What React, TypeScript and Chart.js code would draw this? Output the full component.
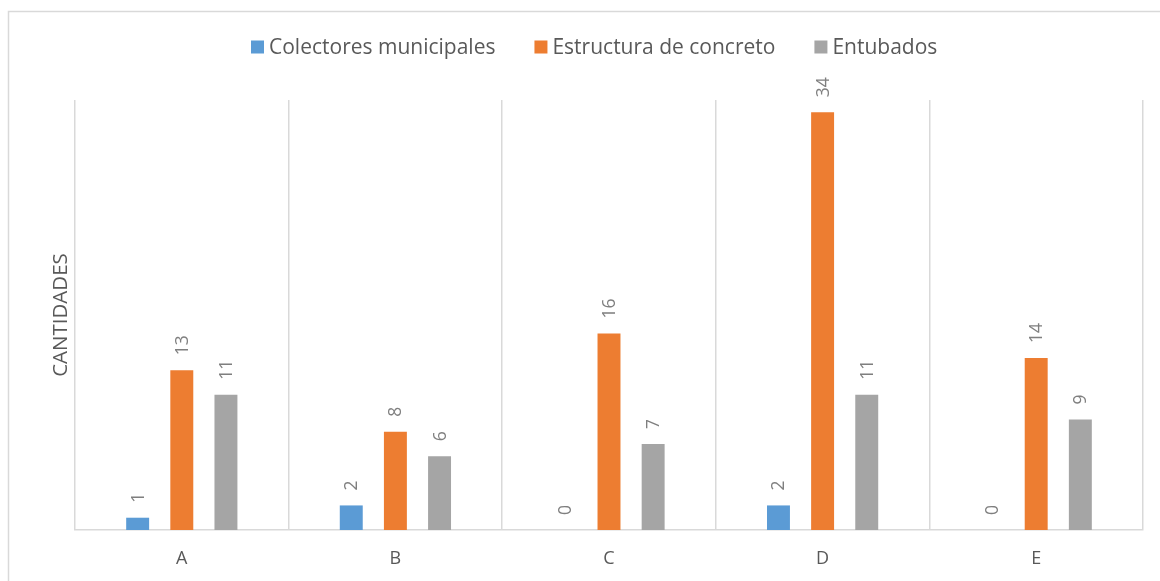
import React, { useEffect, useRef } from "react";
import { Chart, registerables } from "chart.js";

Chart.register(...registerables);

const categories = ["A", "B", "C", "D", "E"];
const seriesNames = ["Colectores municipales", "Estructura de concreto", "Entubados"];
const colectores = [1, 2, 0, 2, 0];
const estructura = [13, 8, 16, 34, 14];
const entubados = [11, 6, 7, 11, 9];
const seriesColors = ["#5B9BD5", "#ED7D31", "#A5A5A5"];
const yTitle = "CANTIDADES";

const FONT = "'Open Sans', 'DejaVu Sans', sans-serif";
const W = 1160;
const H = 581;

const decorPlugin = {
  id: "decor",
  beforeDraw(chart: any) {
    const ctx = chart.ctx;
    ctx.save();
    ctx.fillStyle = "#ffffff";
    ctx.fillRect(0, 0, W, H);
    // outer frame (left and top visible)
    ctx.strokeStyle = "#d9d9d9";
    ctx.lineWidth = 1.5;
    ctx.beginPath();
    ctx.moveTo(8.5, H + 2);
    ctx.lineTo(8.5, 11.5);
    ctx.lineTo(W + 2, 11.5);
    ctx.stroke();
    ctx.restore();
  },
  afterDraw(chart: any) {
    const ctx = chart.ctx;
    const area = chart.chartArea;
    ctx.save();
    // legend
    ctx.font = `21px ${FONT}`;
    ctx.textBaseline = "middle";
    ctx.textAlign = "left";
    const box = 13;
    const gapBox = 5;
    const gapItem = 39;
    const widths = seriesNames.map((n) => ctx.measureText(n).width);
    let x = 251;
    const ly = 47;
    seriesNames.forEach((n, i) => {
      ctx.fillStyle = seriesColors[i];
      ctx.fillRect(x, ly - box / 2, box, box);
      x += box + gapBox;
      ctx.fillStyle = "#595959";
      ctx.fillText(n, x, ly + 1);
      x += widths[i] + gapItem;
    });
    // y axis title
    ctx.save();
    ctx.translate(61, (area.top + area.bottom) / 2);
    ctx.rotate(-Math.PI / 2);
    ctx.textAlign = "center";
    ctx.textBaseline = "middle";
    ctx.font = `20.5px ${FONT}`;
    ctx.fillStyle = "#595959";
    ctx.fillText(yTitle, 0, 0);
    ctx.restore();
    // data labels
    ctx.font = `17.5px ${FONT}`;
    ctx.fillStyle = "#7f7f7f";
    chart.data.datasets.forEach((ds: any, di: number) => {
      const meta = chart.getDatasetMeta(di);
      meta.data.forEach((bar: any, i: number) => {
        ctx.save();
        ctx.translate(bar.x, bar.y - 15);
        ctx.rotate(-Math.PI / 2);
        ctx.textAlign = "left";
        ctx.textBaseline = "middle";
        ctx.fillText(String(ds.data[i]), 0, 1);
        ctx.restore();
      });
    });
    ctx.restore();
  },
};

export default function App() {
  const ref = useRef<HTMLCanvasElement>(null);
  useEffect(() => {
    if (!ref.current) return;
    const chart = new Chart(ref.current, {
      type: "bar",
      data: {
        labels: categories,
        datasets: [
          { label: seriesNames[0], data: colectores, backgroundColor: seriesColors[0] },
          { label: seriesNames[1], data: estructura, backgroundColor: seriesColors[1] },
          { label: seriesNames[2], data: entubados, backgroundColor: seriesColors[2] },
        ],
      },
      options: {
        animation: false,
        responsive: false,
        devicePixelRatio: 1,
        layout: { padding: { left: 75, right: 17, top: 100, bottom: 0 } },
        datasets: { bar: { categoryPercentage: 0.62, barPercentage: 0.52 } },
        plugins: { legend: { display: false }, tooltip: { enabled: false } },
        scales: {
          x: {
            offset: true,
            grid: { display: true, offset: true, color: "#d9d9d9", lineWidth: 1.5, drawTicks: false },
            border: { display: true, color: "#d9d9d9", width: 1.5 },
            ticks: { color: "#595959", font: { family: FONT, size: 18 }, padding: 18 },
            afterFit: (axis: any) => {
              axis.height = H - 530;
            },
          },
          y: {
            display: false,
            min: 0,
            max: 35,
          },
        },
      },
      plugins: [decorPlugin],
    });
    return () => chart.destroy();
  }, []);
  return (
    <div style={{ position: "fixed", left: 0, top: 0, width: W, height: H, background: "#fff" }}>
      <canvas ref={ref} width={W} height={H} style={{ display: "block", width: W, height: H }} />
    </div>
  );
}
